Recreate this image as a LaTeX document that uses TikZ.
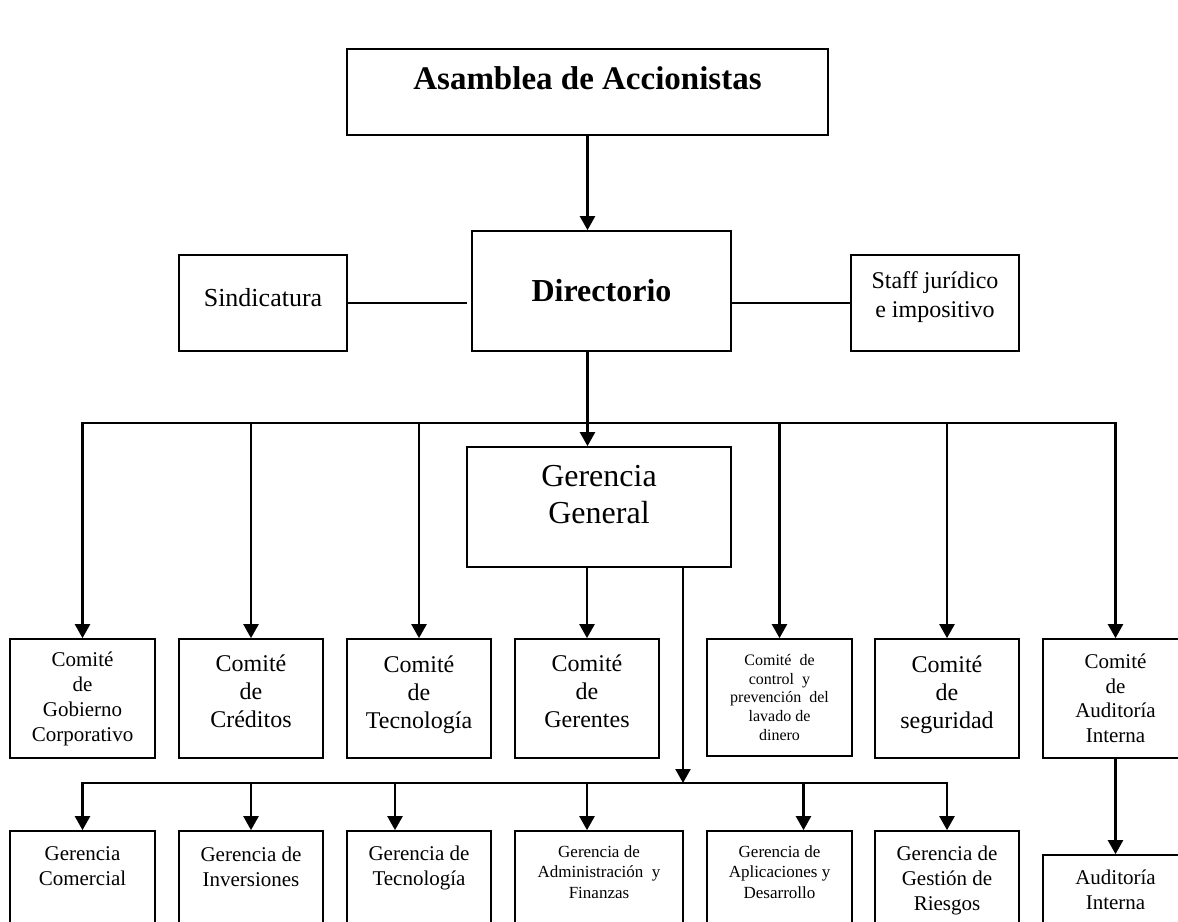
\documentclass[tikz,border=0pt]{standalone}
\usepackage{fontspec}
\setmainfont{Liberation Serif}
\usetikzlibrary{arrows.meta}

\tikzset{
  box/.style={draw, line width=1.7pt, inner sep=0pt, align=center},
  txt/.style={inner sep=0pt, align=center},
  link/.style={line width=2.3pt, line cap=rect},
  arr/.style={line width=2.3pt, -{Triangle[width=15pt,length=14pt]}},
}
\newcommand{\fs}[2]{\fontsize{#1}{#2}\selectfont}

\begin{document}
\begin{tikzpicture}[x=1pt,y=-1pt]
\clip (0,0) rectangle (1178,921);

% Top level
\node[box, minimum width=481, minimum height=86] (asm) at (587.5,92) {};
\node[txt, font=\fs{33}{38}\bfseries] (asm-t) at (587.5,78) {Asamblea de Accionistas};

\node[box, minimum width=259, minimum height=120, font=\fs{32}{37}\bfseries] (dir) at (601.5,291) {Directorio};
\node[box, minimum width=168, minimum height=96, font=\fs{26}{30}, text depth=11pt] (sind) at (263,303) {Sindicatura};
\node[box, minimum width=168, minimum height=96, font=\fs{24}{29}, text depth=17pt] (staff) at (935,303) {Staff jurídico\\e impositivo};

\node[box, minimum width=264, minimum height=120] (gg) at (599,507) {};
\node[txt, font=\fs{32}{37}] (gg-t) at (599,495) {Gerencia\\General};

% Committees
\node[box, minimum width=144.5, minimum height=119, font=\fs{21}{25}] (c1) at (82.5,698.5) {Comité\\de\\Gobierno\\Corporativo};
\node[box, minimum width=144.5, minimum height=119, font=\fs{24}{28}, text depth=14pt] (c2) at (251,698.5) {Comité\\de\\Créditos};
\node[box, minimum width=144.5, minimum height=119, font=\fs{24}{28}, text depth=12pt] (c3) at (419,698.5) {Comité\\de\\Tecnología};
\node[box, minimum width=144.5, minimum height=119, font=\fs{24}{28}, text depth=14pt] (c4) at (587,698.5) {Comité\\de\\Gerentes};
\node[box, minimum width=145, minimum height=117, font=\fs{16}{18.6}] (c5) at (779.5,697.5) {Comité \ de\\control \ y\\prevención \ del\\lavado de\\dinero};
\node[box, minimum width=144.5, minimum height=119, font=\fs{24}{28}, text depth=12pt] (c6) at (947,698.5) {Comité\\de\\seguridad};
\node[box, minimum width=145, minimum height=119, font=\fs{21}{24.5}] (c7) at (1115.5,698.5) {Comité\\de\\Auditoría\\Interna};

% Managements
\node[box, minimum width=144.5, minimum height=130] (g1) at (82.5,896) {};
\node[txt, font=\fs{21}{25}] (g1-t) at (82.5,866.5) {Gerencia\\Comercial};
\node[box, minimum width=144.5, minimum height=130] (g2) at (251,896) {};
\node[txt, font=\fs{21}{25}] (g2-t) at (251,866.5) {Gerencia de\\Inversiones};
\node[box, minimum width=144.5, minimum height=130] (g3) at (419,896) {};
\node[txt, font=\fs{21}{25}] (g3-t) at (419,867.5) {Gerencia de\\Tecnología};
\node[box, minimum width=168, minimum height=130] (g4) at (599,896) {};
\node[txt, font=\fs{17}{20.5}] (g4-t) at (599,872) {Gerencia de\\Administración \ y\\Finanzas};
\node[box, minimum width=145, minimum height=130] (g5) at (779.5,896) {};
\node[txt, font=\fs{17}{20.5}] (g5-t) at (779.5,872) {Gerencia de\\Aplicaciones y\\Desarrollo};
\node[box, minimum width=144.5, minimum height=130] (g6) at (947,896) {};
\node[txt, font=\fs{21}{25}] (g6-t) at (947,880) {Gerencia de\\Gestión de\\Riesgos};
\node[box, minimum width=145, minimum height=130] (ai) at (1115.5,920) {};
\node[txt, font=\fs{21}{24.5}] (ai-t) at (1115.5,890) {Auditoría\\Interna};

% Connectors
\draw[arr] (asm.south) -- (asm.south |- dir.north);
\draw[link, line width=1.7pt, line cap=butt, shorten >=4pt] (sind.east) -- (sind.east -| dir.west);
\draw[link, line width=1.7pt, line cap=butt] (staff.west -| dir.east) -- (staff.west);
\draw[arr] (asm.south |- dir.south) -- (asm.south |- gg.north);

\coordinate (topbus) at (587,423);
\draw[link] (c1.north |- topbus) -- (c7.north |- topbus);
\foreach \c in {c1,c2,c3,c5,c6,c7}
  \draw[arr] (\c.north |- topbus) -- (\c.north);
\draw[arr] (c4.north |- gg.south) -- (c4.north);

\coordinate (lowbus) at (683,783);
\draw[arr] (lowbus |- gg.south) -- (lowbus);
\draw[link] (g1.north |- lowbus) -- (g6.north |- lowbus);
\foreach \g/\dx in {g1/0,g2/0,g3/-24,g4/-12,g5/24,g6/0}
  \draw[arr] ([xshift=\dx]\g.north |- lowbus) -- ([xshift=\dx]\g.north);

\draw[arr] (c7.south) -- (ai.north);
\end{tikzpicture}
\end{document}
